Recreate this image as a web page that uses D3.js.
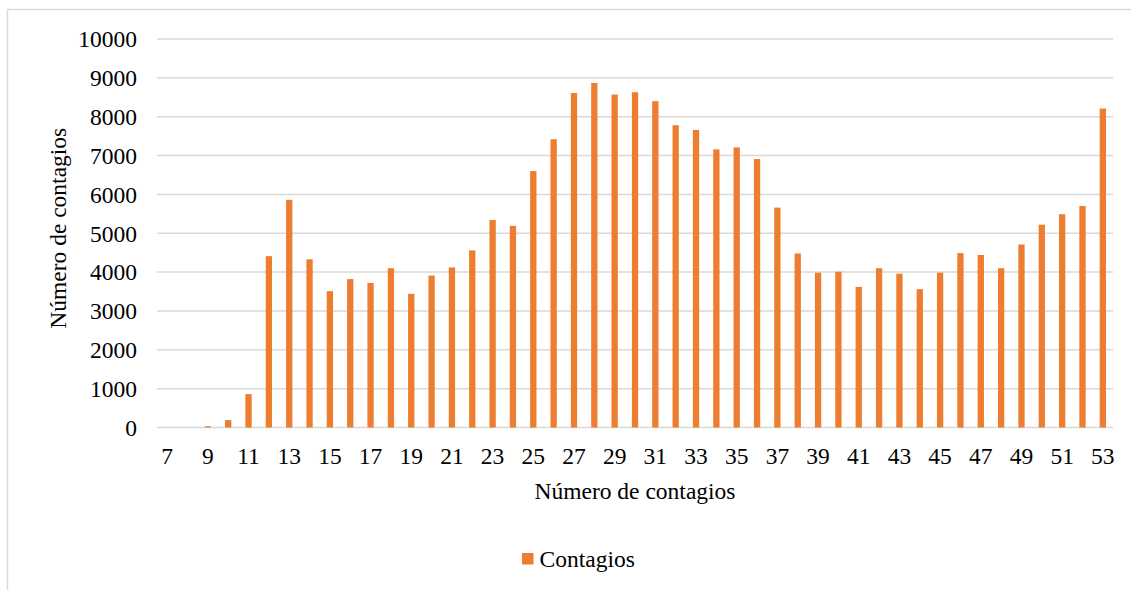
<!DOCTYPE html>
<html>
<head>
<meta charset="utf-8">
<script src="https://cdn.jsdelivr.net/npm/d3@7"></script>
<style>
  html, body { margin: 0; padding: 0; background: #fff; }
  svg { display: block; }
  text { font-family: "Liberation Serif", "Times New Roman", serif; fill: #000; }
</style>
</head>
<body>
<svg id="chart" width="1131" height="590"></svg>
<script>
// Weekly infection counts (semanas 7–53)
const semanas = d3.range(7, 54);
const contagios = [
  0, 0, 33, 190, 860, 4410, 5860, 4330, 3510, 3820,
  3720, 4100, 3440, 3910, 4120, 4560, 5340, 5190, 6600, 7420,
  8610, 8870, 8570, 8630, 8400, 7780, 7660, 7160, 7210, 6910,
  5660, 4480, 3985, 4010, 3620, 4100, 3960, 3560, 3985, 4490,
  4440, 4100, 4710, 5220, 5490, 5700, 8210
];
const yTicks = d3.range(0, 10001, 1000);
const xTickLabels = semanas.filter((d, i) => i % 2 === 0);
const serieNombre = "Contagios";
const ejeX = "Número de contagios";
const ejeY = "Número de contagios";

const svg = d3.select("#chart");
const fontSize = 23.5;
const color = "#ED7D31";
const grid = "#d9d9d9";

// chart area frame
svg.append("rect")
  .attr("x", 7.5).attr("y", 9.5)
  .attr("width", 1300).attr("height", 700)
  .attr("fill", "none").attr("stroke", grid).attr("stroke-width", 1.5);

const plot = { left: 157, right: 1113, top: 39, bottom: 427.5 };

const x = d3.scaleBand()
  .domain(semanas)
  .range([plot.left, plot.right])
  .paddingInner(0.69)
  .paddingOuter(0.345);

const y = d3.scaleLinear()
  .domain([0, 10000])
  .range([plot.bottom, plot.top]);

// horizontal gridlines
svg.append("g")
  .selectAll("line")
  .data(yTicks)
  .join("line")
  .attr("x1", plot.left).attr("x2", plot.right)
  .attr("y1", d => y(d)).attr("y2", d => y(d))
  .attr("stroke", grid).attr("stroke-width", 1.5);

// y-axis labels
const yAxis = d3.axisLeft(y).tickValues(yTicks).tickSize(0).tickPadding(0).tickFormat(d3.format("d"));
const gy = svg.append("g").attr("transform", `translate(${plot.left - 20},0)`).call(yAxis);
gy.select(".domain").remove();
gy.selectAll("text")
  .attr("font-size", fontSize)
  .attr("font-family", "Liberation Serif")
  .attr("fill", "#000")
  .attr("dy", "0.33em");

// bars
svg.append("g")
  .selectAll("rect")
  .data(semanas.map((s, i) => ({ s, v: contagios[i] })))
  .join("rect")
  .attr("x", d => x(d.s))
  .attr("width", x.bandwidth())
  .attr("y", d => y(d.v))
  .attr("height", d => y(0) - y(d.v))
  .attr("fill", color);

// x-axis labels (every other week)
const xAxis = d3.axisBottom(x).tickValues(xTickLabels).tickSize(0).tickPadding(0);
const gx = svg.append("g").attr("transform", `translate(0,${plot.bottom})`).call(xAxis);
gx.select(".domain").remove();
gx.selectAll("text")
  .attr("font-size", fontSize)
  .attr("font-family", "Liberation Serif")
  .attr("fill", "#000")
  .attr("y", 36)
  .attr("dy", null);

// axis titles
svg.append("text")
  .attr("x", (plot.left + plot.right) / 2)
  .attr("y", 499)
  .attr("text-anchor", "middle")
  .attr("font-size", fontSize)
  .text(ejeX);

svg.append("text")
  .attr("transform", `translate(66,${(plot.top + plot.bottom) / 2 - 5}) rotate(-90)`)
  .attr("text-anchor", "middle")
  .attr("font-size", fontSize)
  .text(ejeY);

// legend
const legend = svg.append("g").attr("transform", "translate(522,553)");
legend.append("rect").attr("width", 11.5).attr("height", 11.5).attr("fill", color);
legend.append("text").attr("x", 17.5).attr("y", 13.7).attr("font-size", fontSize).text(serieNombre);
</script>
</body>
</html>
